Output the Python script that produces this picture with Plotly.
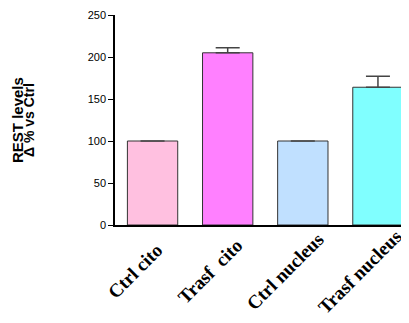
import plotly.graph_objects as go

categories = ["Ctrl cito", "Trasf  cito", "Ctrl nucleus", "Trasf nucleus"]
values = [100, 205, 100, 164]
errors = [0, 6, 0, 13]
colors = ["#FFC0E0", "#FF80FF", "#C0E0FF", "#80FFFF"]
y_ticks = [0, 50, 100, 150, 200, 250]

OFF = 8  # default page body margin
L = 115 - OFF

fig = go.Figure()
fig.add_trace(go.Bar(
    x=categories, y=values,
    marker=dict(color=colors, line=dict(color="#333333", width=1)),
    width=0.67,
    error_y=dict(type="data", symmetric=False, array=errors,
                 arrayminus=[0] * len(errors), color="#444444",
                 thickness=1.5, width=12),
))

label_annotations = [
    dict(text=f"<b>{c}</b>", x=c, xref="x", y=-0.22, yref="paper",
         xanchor="center", yanchor="middle", textangle=-45, showarrow=False,
         xshift=-18,
         font=dict(family="Liberation Serif, Times New Roman", size=19, color="black"))
    for c in categories
]

fig.update_layout(
    width=409 - OFF, height=323 - OFF,
    margin=dict(l=L, r=1, t=15 - OFF, b=98, autoexpand=False),
    paper_bgcolor="white", plot_bgcolor="white",
    showlegend=False,
    font=dict(family="Liberation Sans, Arial", color="black"),
    xaxis=dict(
        range=[-0.5, 3.4], showline=True, linecolor="black", linewidth=1.5,
        ticks="", showticklabels=False, automargin=False,
    ),
    yaxis=dict(
        range=[0, 250], tickvals=y_ticks, showline=True, linecolor="black",
        linewidth=1.5, ticks="outside", ticklen=5, tickcolor="black",
        showgrid=False, zeroline=False, automargin=False,
        tickfont=dict(family="Liberation Sans, Arial", size=11, color="black"),
    ),
    annotations=[
        dict(text="<b>REST levels</b>", xref="paper", yref="paper",
             x=(17 - 115) / 293, y=0.5, xanchor="center", yanchor="middle",
             textangle=-90, showarrow=False,
             font=dict(family="Liberation Sans, Arial", size=15, color="black")),
        dict(text="<b>Δ % vs Ctrl</b>", xref="paper", yref="paper",
             x=(29 - 115) / 293, y=0.5, xanchor="center", yanchor="middle",
             textangle=-90, showarrow=False,
             font=dict(family="Liberation Sans, Arial", size=14, color="black")),
    ] + label_annotations,
)

fig.write_html("out.html")
